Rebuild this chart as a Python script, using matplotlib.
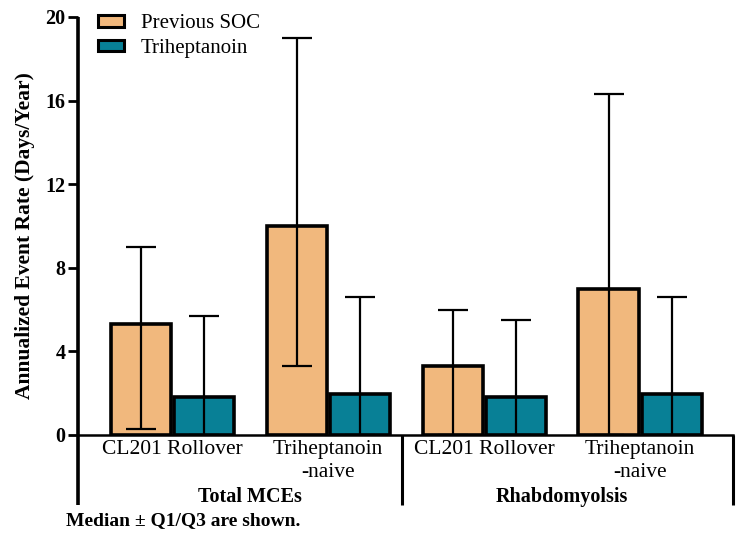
import numpy as np
import matplotlib
matplotlib.use("Agg")
import matplotlib.pyplot as plt
from matplotlib.patches import Patch
import matplotlib.transforms as mtransforms

# ============================================================
# DATA
# ============================================================

CATEGORIES = ["CL201 Rollover", "Triheptanoin\n-naive", "CL201 Rollover", "Triheptanoin\n-naive"]
GROUPS = ["Total MCEs", "Rhabdomyolsis"]
SERIES = ["Previous SOC", "Triheptanoin"]

SOC_MEDIAN = [5.3, 10.0, 3.3, 7.0]
SOC_Q1 = [0.3, 3.3, 0.0, 0.0]
SOC_Q3 = [9.0, 19.0, 6.0, 16.3]

TRI_MEDIAN = [1.8, 1.95, 1.8, 1.95]
TRI_Q1 = [0.0, 0.0, 0.0, 0.0]
TRI_Q3 = [5.7, 6.6, 5.5, 6.6]

Y_TICKS = [0, 4, 8, 12, 16, 20]

# ============================================================
# SETTINGS
# ============================================================

COLOR_SOC = "#F1B87D"
COLOR_TRI = "#088096"
FONT = ["Liberation Serif", "DejaVu Serif"]

plt.rcParams["font.family"] = FONT

BAR_W = 0.385
OFFSET = 0.202

# ============================================================
# PLOT
# ============================================================

fig = plt.figure(figsize=(7.38, 5.34), dpi=100)
ax = fig.add_axes([78 / 738, 99 / 534, 655 / 738, 418 / 534])

x = np.arange(len(CATEGORIES))

for vals, q1, q3, color, off in [
    (SOC_MEDIAN, SOC_Q1, SOC_Q3, COLOR_SOC, -OFFSET),
    (TRI_MEDIAN, TRI_Q1, TRI_Q3, COLOR_TRI, OFFSET),
]:
    vals = np.array(vals)
    ax.bar(x + off, vals, width=BAR_W, color=color, edgecolor="black",
           linewidth=2.6, zorder=2)
    yerr = np.vstack([vals - np.array(q1), np.array(q3) - vals])
    ax.errorbar(x + off, vals, yerr=yerr, fmt="none", ecolor="black",
                elinewidth=1.6, capsize=11, capthick=1.6, zorder=3)

ax.set_xlim(-0.603, 3.596)
ax.set_ylim(0, 20)
ax.set_yticks(Y_TICKS)
ax.set_yticklabels([str(t) for t in Y_TICKS], fontsize=14.5, fontweight="bold")
ax.tick_params(axis="y", direction="out", length=7, width=2, pad=2)
ax.set_xticks([])

for s in ["top", "right", "left"]:
    ax.spines[s].set_visible(False)
ax.spines["bottom"].set_linewidth(1.8)

# left axis line running down past zero, plus group separators
trans = mtransforms.blended_transform_factory(ax.transData, ax.transAxes)
ax.plot([-0.603, -0.603], [-0.167, 1.0], transform=trans, color="black",
        linewidth=2.6, clip_on=False, solid_capstyle="butt")
for xs in [1.474, 3.596]:
    ax.plot([xs, xs], [-0.167, 0.0], transform=trans, color="black",
            linewidth=2.2, clip_on=False, solid_capstyle="butt")

for xi, lab in zip(x, CATEGORIES):
    ax.text(xi, -0.012, lab, transform=trans, ha="center", va="top",
            fontsize=15.5, linespacing=1.28)

for gi, g in enumerate(GROUPS):
    ax.text(2 * gi + 0.5, -0.148, g, transform=trans, ha="center", va="center",
            fontsize=14.5, fontweight="bold")

fig.text(25 / 738, 1 - 236 / 534, "Annualized Event Rate (Days/Year)",
         fontsize=15.5, fontweight="bold", rotation=90,
         ha="center", va="center")

fig.text(66 / 738, 1 - 521 / 534, "Median \u00b1 Q1/Q3 are shown.",
         fontsize=14, fontweight="bold", ha="left", va="center")

handles = [Patch(facecolor=COLOR_SOC, edgecolor="black", linewidth=2.2),
           Patch(facecolor=COLOR_TRI, edgecolor="black", linewidth=2.2)]
ax.legend(handles, SERIES, loc="upper left", bbox_to_anchor=(0.0305, 1.006),
          frameon=False, fontsize=15, handlelength=1.25, handleheight=0.45,
          handletextpad=0.8, labelspacing=0.25, borderaxespad=0, borderpad=0)

fig.savefig("out.png", dpi=100)
